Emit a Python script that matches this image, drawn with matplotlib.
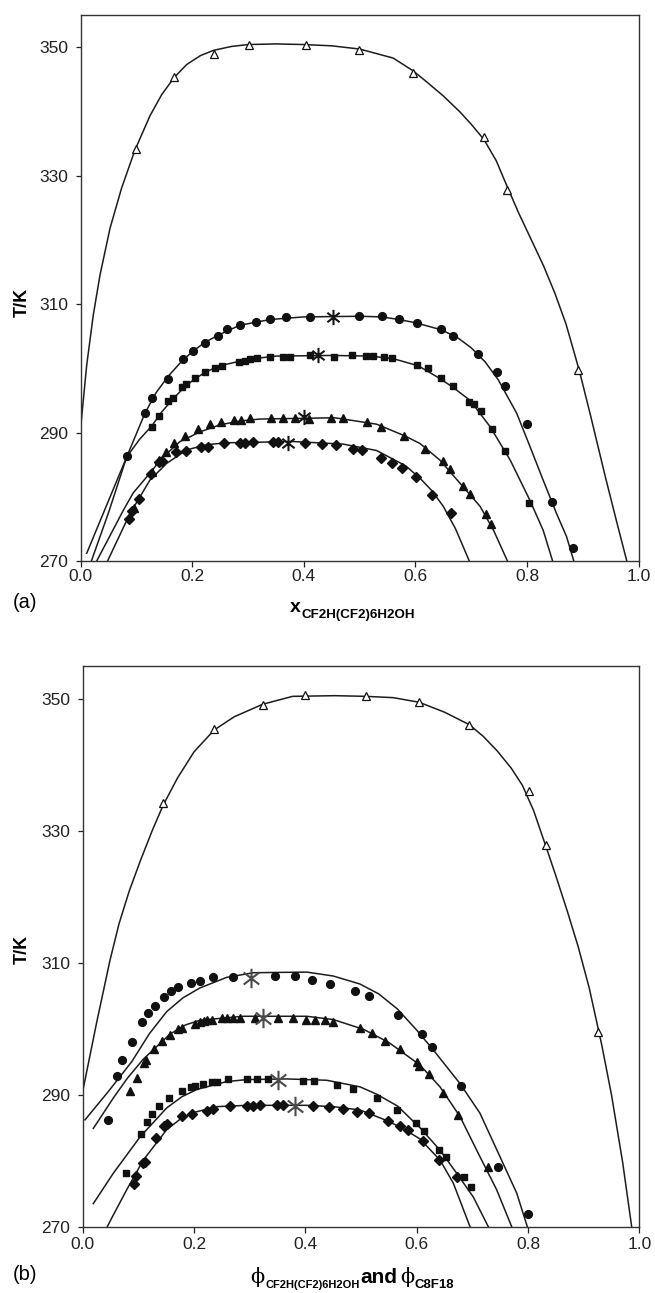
import matplotlib
matplotlib.use("Agg")
import matplotlib.pyplot as plt
from matplotlib.path import Path

plt.rcParams['font.family'] = ['Liberation Sans', 'DejaVu Sans']

# ---------------- panel (a): mole fraction ----------------
# open triangles and their fitted curve
a_hi_x = [0.099, 0.168, 0.238, 0.302, 0.404, 0.499, 0.596, 0.723, 0.764, 0.892]
a_hi_T = [334.1, 345.4, 349.0, 350.3, 350.3, 349.6, 345.9, 336.0, 327.8, 299.8]
a_hi_fit_x = [0.0, 0.0106, 0.0224, 0.0344, 0.0524, 0.0733, 0.0972, 0.124, 0.145, 0.1677,
              0.19, 0.215, 0.238, 0.27, 0.30, 0.35, 0.40, 0.45, 0.50, 0.56, 0.596, 0.62,
              0.65, 0.68, 0.70, 0.723, 0.745, 0.764, 0.785, 0.81, 0.83, 0.85, 0.87, 0.894,
              0.915, 0.94, 0.96, 0.979]
a_hi_fit_T = [291.0, 300.5, 308.3, 314.5, 321.8, 328.1, 334.0, 339.3, 342.6, 345.3,
              347.3, 348.7, 349.5, 350.1, 350.4, 350.5, 350.4, 350.2, 349.7, 348.3, 346.3, 344.6,
              342.4, 339.9, 338.0, 335.6, 332.3, 328.4, 324.2, 319.6, 315.9, 311.7, 306.9, 299.6,
              292.3, 283.3, 276.4, 270.0]

# circles
a_c_x = [0.0825, 0.1148, 0.1268, 0.1568, 0.1830, 0.2003, 0.2221, 0.2453, 0.2626, 0.2851,
         0.3136, 0.3391, 0.3683, 0.4111, 0.4996, 0.5401, 0.5701, 0.6032, 0.6459, 0.6669,
         0.7119, 0.7464, 0.7607, 0.7997, 0.8455, 0.8822]
a_c_T = [286.3, 293.1, 295.3, 298.3, 301.4, 302.7, 304.0, 305.1, 306.1, 306.7,
         307.2, 307.6, 308.0, 308.0, 308.2, 308.2, 307.6, 307.1, 306.1, 305.1,
         302.3, 299.4, 297.3, 291.4, 279.2, 272.1]
a_c_fit_x = [0.019, 0.05, 0.0823, 0.115, 0.135, 0.157, 0.18, 0.20, 0.222, 0.245, 0.285, 0.34,
             0.40, 0.50, 0.54, 0.57, 0.60, 0.646, 0.675, 0.70, 0.725, 0.7486, 0.7816, 0.8055,
             0.829, 0.853, 0.871, 0.884]
a_c_fit_T = [270.0, 277.6, 286.2, 293.0, 296.2, 298.8, 301.0, 302.6, 304.0, 305.1, 306.7, 307.6,
             308.0, 308.1, 308.0, 307.6, 307.1, 306.0, 304.8, 303.2, 301.0, 298.2, 293.0, 287.8,
             282.6, 277.4, 273.8, 270.0]

# squares
a_s_x = [0.1283, 0.1408, 0.1569, 0.1647, 0.1809, 0.1886, 0.2048, 0.2233, 0.2412, 0.2526,
         0.2837, 0.2944, 0.3034, 0.3154, 0.3393, 0.3620, 0.3751, 0.4110, 0.4545, 0.4869,
         0.5116, 0.5244, 0.5431, 0.5581, 0.6032, 0.6219, 0.6459, 0.6677, 0.6966, 0.7044,
         0.717, 0.738, 0.761, 0.804]
a_s_T = [290.8, 292.6, 294.9, 295.3, 297.1, 297.5, 298.5, 299.4, 300.1, 300.4,
         301.0, 301.2, 301.4, 301.6, 301.8, 301.8, 301.8, 302.0, 301.8, 302.0,
         301.9, 301.9, 301.8, 301.6, 300.5, 300.0, 298.5, 297.3, 294.8, 294.5,
         293.3, 290.5, 287.1, 279.1]
a_s_fit_x = [0.0106, 0.0464, 0.0823, 0.105, 0.127, 0.145, 0.165, 0.185, 0.205, 0.228, 0.25,
             0.30, 0.35, 0.45, 0.52, 0.56, 0.605, 0.644, 0.668, 0.698, 0.734, 0.770, 0.805,
             0.829, 0.846]
a_s_fit_T = [271.2, 278.7, 286.2, 288.9, 291.0, 293.2, 295.2, 297.0, 298.4, 299.6, 300.4,
             301.4, 301.9, 302.0, 301.9, 301.5, 300.4, 298.4, 297.0, 295.0, 290.9, 285.7, 279.5,
             274.8, 270.0]

# filled triangles
a_t_x = [0.0953, 0.1268, 0.1403, 0.1530, 0.1680, 0.1875, 0.2108, 0.2311, 0.2521, 0.2746,
         0.2866, 0.3038, 0.3413, 0.3631, 0.3848, 0.4088, 0.4494, 0.4704, 0.5131, 0.5386,
         0.5799, 0.617, 0.649, 0.662, 0.685, 0.698, 0.726, 0.7355]
a_t_T = [278.3, 283.8, 285.7, 287.0, 288.4, 289.5, 290.5, 291.3, 291.6, 292.0,
         292.0, 292.3, 292.3, 292.3, 292.3, 292.1, 292.3, 292.3, 291.6, 290.9,
         289.5, 287.4, 285.5, 284.3, 281.6, 280.4, 277.3, 275.7]
a_t_fit_x = [0.0285, 0.0763, 0.094, 0.127, 0.145, 0.178, 0.2137, 0.2496, 0.2855, 0.3213,
             0.4554, 0.5304, 0.5804, 0.608, 0.644, 0.680, 0.716, 0.740, 0.765]
a_t_fit_T = [270.0, 277.9, 280.6, 284.0, 286.0, 288.6, 290.1, 291.2, 291.8, 292.1,
             292.3, 291.3, 289.5, 288.3, 285.7, 282.1, 278.5, 274.8, 270.0]

# diamonds
a_d_x = [0.0870, 0.0924, 0.1044, 0.1253, 0.1397, 0.1462, 0.1707, 0.1886, 0.2161, 0.2286,
         0.2562, 0.2855, 0.2944, 0.3082, 0.3441, 0.3530, 0.4026, 0.4325, 0.4576, 0.4875,
         0.5049, 0.5386, 0.5581, 0.5754, 0.6002, 0.629, 0.663]
a_d_T = [276.5, 277.8, 279.6, 283.6, 285.4, 285.5, 286.9, 287.2, 287.7, 287.8,
         288.3, 288.3, 288.3, 288.5, 288.5, 288.5, 288.3, 288.2, 288.0, 287.4,
         287.3, 286.1, 285.3, 284.5, 283.1, 280.2, 277.5]
a_d_fit_x = [0.048, 0.0882, 0.124, 0.154, 0.19, 0.2257, 0.2603, 0.3803, 0.4704, 0.5304,
             0.5829, 0.608, 0.630, 0.650, 0.672, 0.6966]
a_d_fit_T = [270.0, 277.4, 282.6, 285.2, 287.3, 288.1, 288.4, 288.6, 288.2, 287.2,
             284.8, 282.9, 280.9, 278.5, 275.0, 270.0]

# critical points
a_star_x = [0.452, 0.425, 0.401, 0.371]
a_star_T = [308.0, 302.0, 292.4, 288.3]

# ---------------- panel (b): volume fraction ----------------
b_hi_x = [0.1444, 0.2361, 0.3233, 0.400, 0.509, 0.6045, 0.6947, 0.8015, 0.8316, 0.9263]
b_hi_T = [334.2, 345.4, 349.1, 350.6, 350.4, 349.6, 346.1, 336.0, 327.8, 299.5]
b_hi_fit_x = [0.001, 0.025, 0.0489, 0.065, 0.0835, 0.104, 0.125, 0.1444, 0.17, 0.20, 0.2361,
              0.272, 0.3233, 0.377, 0.4526, 0.509, 0.558, 0.6045, 0.65, 0.6947, 0.72, 0.745,
              0.77, 0.79, 0.81, 0.8316, 0.85, 0.87, 0.89, 0.91, 0.9324, 0.95, 0.97, 0.9863]
b_hi_fit_T = [291.0, 301.0, 310.4, 315.9, 320.9, 325.6, 330.1, 333.9, 338.0, 342.0, 345.3,
              347.3, 349.2, 350.4, 350.5, 350.4, 350.2, 349.5, 348.0, 346.1, 344.3, 342.1,
              339.5, 336.9, 333.1, 327.8, 323.2, 318.0, 312.5, 306.2, 297.6, 290.0, 279.8, 270.0]

b_c_x = [0.0447, 0.0620, 0.0710, 0.0878, 0.1058, 0.1166, 0.1297, 0.1459, 0.1579, 0.1716,
         0.1938, 0.2106, 0.2345, 0.2693, 0.3454, 0.3813, 0.4113, 0.4442, 0.4891, 0.5143,
         0.5669, 0.6090, 0.6278, 0.6797, 0.7459, 0.8008]
b_c_T = [286.1, 292.9, 295.2, 298.0, 301.0, 302.4, 303.5, 304.8, 305.8, 306.4,
         306.9, 307.3, 307.8, 307.8, 308.0, 308.0, 307.4, 306.8, 305.8, 304.9,
         302.1, 299.2, 297.2, 291.3, 279.1, 272.0]
b_c_fit_x = [0.004, 0.045, 0.0878, 0.12, 0.1507, 0.18, 0.2106, 0.2586, 0.3064, 0.4023,
             0.4501, 0.4977, 0.5316, 0.5654, 0.60, 0.6298, 0.6778, 0.7137, 0.7497, 0.7797,
             0.7988]
b_c_fit_T = [286.2, 290.4, 295.0, 299.3, 302.6, 304.7, 306.2, 307.8, 308.5, 308.6,
             308.0, 306.8, 305.3, 303.0, 299.8, 296.8, 291.7, 287.2, 280.6, 275.1,
             270.0]

b_t_x = [0.0848, 0.0968, 0.1100, 0.1136, 0.1285, 0.1429, 0.1567, 0.1716, 0.1777, 0.2016,
         0.2106, 0.2178, 0.2226, 0.2316, 0.2496, 0.2586, 0.2704, 0.2825, 0.3094, 0.3513,
         0.3783, 0.4011, 0.4173, 0.4352, 0.4491, 0.4977, 0.5203, 0.5429, 0.5707, 0.6008,
         0.6045, 0.6226, 0.6478, 0.6737, 0.7287]
b_t_T = [290.6, 292.5, 294.8, 295.2, 296.9, 298.2, 299.0, 299.9, 300.1, 300.8,
         301.1, 301.2, 301.3, 301.3, 301.6, 301.6, 301.7, 301.7, 301.7, 301.7,
         301.7, 301.4, 301.4, 301.3, 301.1, 300.1, 299.4, 298.2, 296.9, 294.9,
         294.4, 293.1, 290.3, 287.0, 279.0]
b_t_fit_x = [0.0189, 0.0548, 0.08, 0.1087, 0.1567, 0.185, 0.2106, 0.2884, 0.4023, 0.4501,
             0.505, 0.5504, 0.606, 0.6419, 0.6778, 0.7137, 0.7437, 0.7707]
b_t_fit_T = [284.9, 289.5, 292.5, 295.4, 299.2, 300.6, 301.3, 301.9, 301.9, 301.4,
             299.9, 297.9, 294.5, 291.2, 286.7, 280.6, 275.6, 270.0]

b_s_x = [0.0776, 0.1040, 0.1148, 0.1249, 0.1375, 0.1554, 0.1777, 0.1939, 0.2016, 0.2154,
         0.2316, 0.2406, 0.2615, 0.2956, 0.3125, 0.3333, 0.3951, 0.4155, 0.4562, 0.4850,
         0.5278, 0.5654, 0.5992, 0.6131, 0.6406, 0.6527, 0.685, 0.697]
b_s_T = [278.2, 284.0, 285.8, 287.1, 288.3, 289.5, 290.5, 291.2, 291.3, 291.6,
         292.0, 292.0, 292.4, 292.4, 292.4, 292.4, 292.1, 292.1, 291.5, 290.8,
         289.5, 287.7, 285.7, 284.5, 281.7, 280.6, 277.5, 276.0]
b_s_fit_x = [0.0189, 0.0548, 0.1028, 0.1507, 0.178, 0.2047, 0.2586, 0.2945, 0.3664, 0.4383,
             0.4981, 0.5278, 0.5654, 0.606, 0.6419, 0.6719, 0.7017, 0.7287]
b_s_fit_T = [273.5, 278.1, 283.6, 288.0, 289.7, 290.8, 292.0, 292.3, 292.4, 292.2,
             291.2, 290.1, 288.3, 285.0, 281.6, 278.1, 274.5, 270.0]

b_d_x = [0.0920, 0.0956, 0.1087, 0.1123, 0.1315, 0.1459, 0.1518, 0.1777, 0.1968, 0.2226,
         0.2345, 0.2645, 0.2945, 0.3053, 0.3184, 0.3495, 0.3603, 0.4131, 0.4430, 0.4670,
         0.4933, 0.5143, 0.5481, 0.5692, 0.5842, 0.6108, 0.6406, 0.673]
b_d_T = [276.4, 277.7, 279.6, 279.8, 283.4, 285.3, 285.5, 286.8, 287.1, 287.6,
         287.8, 288.3, 288.3, 288.3, 288.5, 288.5, 288.5, 288.3, 288.1, 287.8,
         287.4, 287.2, 286.0, 285.2, 284.6, 283.0, 280.1, 277.5]
b_d_fit_x = [0.044, 0.0519, 0.0789, 0.1087, 0.1507, 0.175, 0.1986, 0.2406, 0.2945, 0.4023,
             0.4501, 0.4981, 0.5429, 0.573, 0.606, 0.6419, 0.6658, 0.6958]
b_d_fit_T = [270.0, 271.3, 275.6, 280.1, 284.7, 286.3, 287.3, 288.2, 288.4, 288.4,
             288.2, 287.7, 286.2, 285.0, 283.3, 280.1, 276.6, 270.0]

b_star_x = [0.302, 0.324, 0.351, 0.381]
b_star_T = [307.7, 301.7, 292.2, 288.3]

x_ticks = [0.0, 0.2, 0.4, 0.6, 0.8, 1.0]
x_ticklabels = ["0.0", "0.2", "0.4", "0.6", "0.8", "1.0"]
y_ticks = [270, 290, 310, 330, 350]
y_ticklabels = ["270", "290", "310", "330", "350"]

# six-armed asterisk used for the critical points
_M, _L = Path.MOVETO, Path.LINETO
asterisk = Path([(0, -1), (0, 1), (-0.8, -0.62), (0.8, 0.62), (-0.8, 0.62), (0.8, -0.62)],
                [_M, _L, _M, _L, _M, _L])

W, H = 655, 1293
fig = plt.figure(figsize=(W / 100, H / 100), dpi=100)

LINE = dict(color='#1c1c1c', lw=1.1, zorder=2, solid_joinstyle='round')
MK = '#111111'


def style_axes(ax, xpad):
    ax.set_xlim(0, 1)
    ax.set_ylim(270, 355)
    ax.set_xticks(x_ticks)
    ax.set_xticklabels(x_ticklabels)
    ax.set_yticks(y_ticks)
    ax.set_yticklabels(y_ticklabels)
    ax.tick_params(axis='x', direction='out', length=4.2, width=0.9, pad=xpad,
                   labelsize=12.5, colors='#222222')
    ax.tick_params(axis='y', direction='out', length=3.6, width=0.9, pad=5.5,
                   labelsize=12.5, colors='#222222')
    for sp in ax.spines.values():
        sp.set_linewidth(1.0)
        sp.set_color('#333333')


def draw_panel(ax, hi, c, s, t, d, star, star_color, star_size):
    for fx, fy in (hi[2:], c[2:], s[2:], t[2:], d[2:]):
        ax.plot(fx, fy, **LINE)
    ax.plot(hi[0], hi[1], ls='none', marker='^', ms=6.2, mfc='white', mec=MK, mew=0.9, zorder=3)
    ax.plot(c[0], c[1], ls='none', marker='o', ms=5.6, mfc=MK, mec=MK, zorder=3)
    ax.plot(s[0], s[1], ls='none', marker='s', ms=5.0, mfc=MK, mec=MK, zorder=3)
    ax.plot(t[0], t[1], ls='none', marker='^', ms=6.2, mfc=MK, mec=MK, zorder=3)
    ax.plot(d[0], d[1], ls='none', marker='D', ms=4.7, mfc=MK, mec=MK, zorder=3)
    ax.plot(star[0], star[1], ls='none', marker=asterisk, ms=star_size, mfc='none',
            mec=star_color, mew=1.5, zorder=4)


ax_a = fig.add_axes([80.8 / W, 1 - 561 / H, 557.7 / W, 546 / H])
style_axes(ax_a, 1.5)
draw_panel(ax_a,
           (a_hi_x, a_hi_T, a_hi_fit_x, a_hi_fit_T),
           (a_c_x, a_c_T, a_c_fit_x, a_c_fit_T),
           (a_s_x, a_s_T, a_s_fit_x, a_s_fit_T),
           (a_t_x, a_t_T, a_t_fit_x, a_t_fit_T),
           (a_d_x, a_d_T, a_d_fit_x, a_d_fit_T),
           (a_star_x, a_star_T), '#151515', 11)

ax_b = fig.add_axes([82.8 / W, 1 - 1226.7 / H, 556.5 / W, 560.7 / H])
style_axes(ax_b, 3.5)
draw_panel(ax_b,
           (b_hi_x, b_hi_T, b_hi_fit_x, b_hi_fit_T),
           (b_c_x, b_c_T, b_c_fit_x, b_c_fit_T),
           (b_s_x, b_s_T, b_s_fit_x, b_s_fit_T),
           (b_t_x, b_t_T, b_t_fit_x, b_t_fit_T),
           (b_d_x, b_d_T, b_d_fit_x, b_d_fit_T),
           (b_star_x, b_star_T), '#4a4a4a', 14)


def ftext(px, py, s, **kw):
    fig.text(px / W, 1 - py / H, s, **kw)


# axis titles
ftext(22, 302, "T/K", rotation=90, ha='center', va='center', fontsize=13, fontweight='bold')
ftext(22, 949, "T/K", rotation=90, ha='center', va='center', fontsize=13, fontweight='bold')

ftext(290, 611.7, "x", ha='left', va='baseline', fontsize=14, fontweight='bold')
ftext(302, 617.7, "CF2H(CF2)6H2OH", ha='left', va='baseline', fontsize=9.6, fontweight='bold')

PHI = dict(ha='left', va='baseline', fontsize=15, family=['DejaVu Serif'])
ftext(250, 1283.3, "\u03d5", **PHI)
ftext(265, 1288.3, "CF2H(CF2)6H2OH", ha='left', va='baseline', fontsize=8, fontweight='bold')
ftext(360, 1283.3, "and", ha='left', va='baseline', fontsize=15, fontweight='bold')
ftext(400, 1283.3, "\u03d5", **PHI)
ftext(415, 1288.3, "C8F18", ha='left', va='baseline', fontsize=9.5, fontweight='bold')

# panel letters
ftext(13, 607.5, "(a)", ha='left', va='baseline', fontsize=14.5)
ftext(13, 1279.5, "(b)", ha='left', va='baseline', fontsize=14.5)

fig.savefig("out.png", dpi=100)
